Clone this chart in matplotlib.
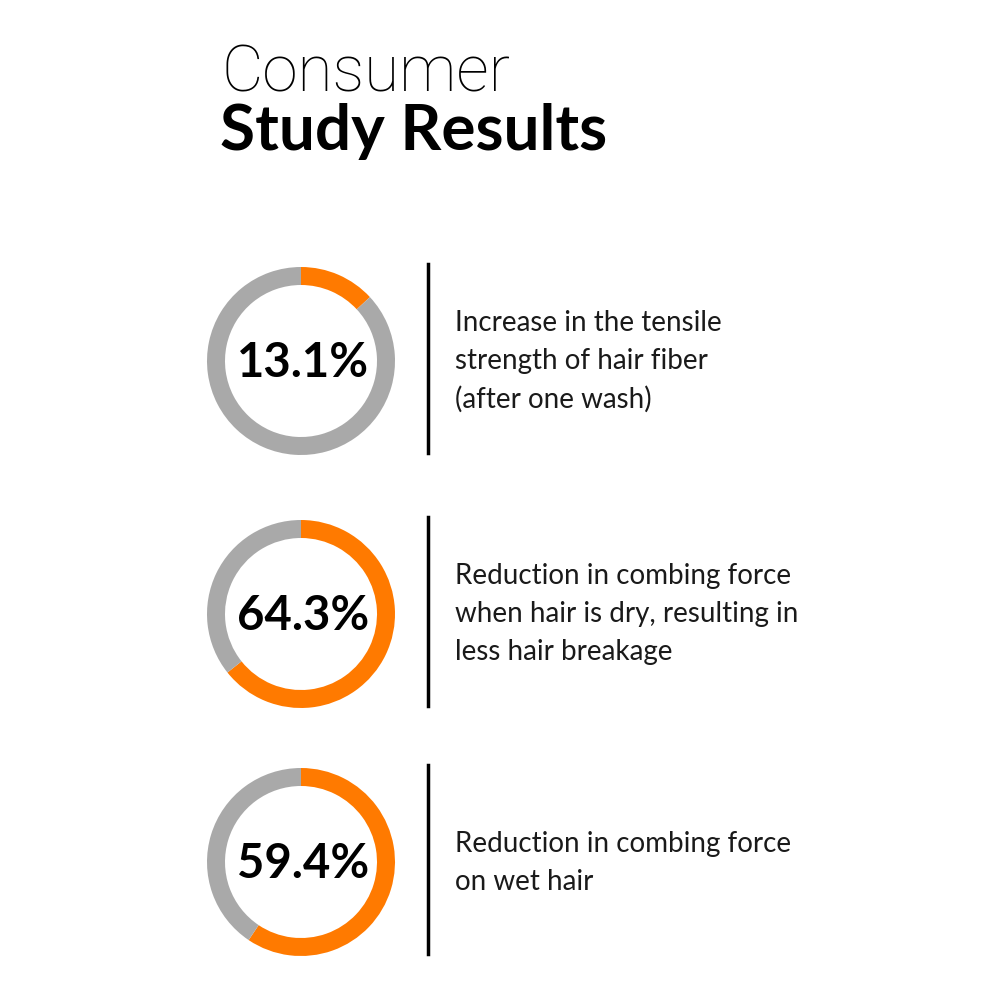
import matplotlib.pyplot as plt

plt.rcParams['font.family'] = ['Lato', 'DejaVu Sans']

title_light = 'Consumer'
title_bold = 'Study Results'
percents = [13.1, 64.3, 59.4]
labels = ['13.1%', '64.3%', '59.4%']
descriptions = [
    ['Increase in the tensile', 'strength of hair fiber', '(after one wash)'],
    ['Reduction in combing force', 'when hair is dry, resulting in', 'less hair breakage'],
    ['Reduction in combing force', 'on wet hair'],
]

orange = '#FF7A00'
grey = '#A9A9A9'

fig = plt.figure(figsize=[10, 10], dpi=100)
ax = fig.add_axes([0, 0, 1, 1])

# title
ax.text(222, 1000 - 92, title_light, fontsize=46, fontweight='light', family=['Roboto', 'DejaVu Sans'],
        color='black', va='baseline', ha='left')
ax.text(220, 1000 - 150, title_bold, fontsize=46, fontweight='bold', color='black', va='baseline', ha='left')

centers_y = [361, 614, 862]
for i in range(3):
    cy = 1000 - centers_y[i]
    p = percents[i]
    ax.pie([p, 100 - p], colors=[orange, grey], startangle=90, counterclock=False,
           center=(301, cy), radius=94, frame=True,
           wedgeprops=dict(width=18, edgecolor='none', linewidth=0))
    ax.text(303, cy - 2, labels[i], fontsize=34, fontweight='bold', ha='center', va='center', color='black')
    ax.plot([428, 428], [cy + 97, cy - 92], color='black', lw=2.5)
    n = len(descriptions[i])
    if n == 3:
        ys = [cy + 38, cy, cy - 38]
    else:
        ys = [cy + 18, cy - 20]
    for k in range(n):
        ax.text(455, ys[k], descriptions[i][k], fontsize=20, fontweight='normal', ha='left', va='center', color='#1a1a1a')

ax.set_xlim(0, 1000)
ax.set_ylim(0, 1000)
ax.set_aspect('equal')
ax.axis('off')

plt.savefig('out.png', dpi=100)
plt.close('all')
